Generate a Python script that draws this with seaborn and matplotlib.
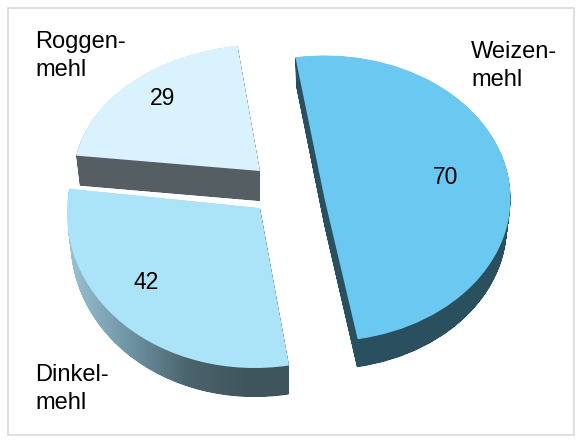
import numpy as np
import matplotlib
matplotlib.use("Agg")
import matplotlib.pyplot as plt
import seaborn as sns
from matplotlib.patches import PathPatch, Rectangle
from matplotlib.path import Path
from matplotlib.transforms import Affine2D
from matplotlib.colors import LinearSegmentedColormap

# Data
categories = ["Weizen-\nmehl", "Dinkel-\nmehl", "Roggen-\nmehl"]
values = [70, 42, 29]

# Look
top_colors = ["#6bc8f0", "#abe3f9", "#daf2fe"]
side_colors = ["#2a4f5e", None, "#555e63"]
centers = [(324.5, 198.5), (260, 208), (260, 171)]
radii = [(186, 143), (193, 160), (186, 127)]
shears = [0.0, 0.028, 0.036]
depths = [28, 29, 30]
label_pos = [(471, 58), (35, 381), (35, 48)]
value_pos = [(446, 184), (146, 289), (163, 105)]

sns.set_theme(style="white")
plt.rcParams["font.family"] = ["Liberation Sans", "DejaVu Sans"]

fig = plt.figure(figsize=(5.88, 4.48), dpi=100)
ax = fig.add_axes([0, 0, 1, 1])

wedges, _ = ax.pie(values, colors=top_colors, startangle=99, counterclock=False,
                   wedgeprops={"linewidth": 0})
ax.set_aspect("auto")
ax.set_xlim(0, 588)
ax.set_ylim(448, 0)

# frame around the chart
ax.add_patch(Rectangle((7.5, 8.5), 566.5, 427, fill=False, edgecolor="#d9d9d9", linewidth=1.2, zorder=0))

# thick sides: the same wedge stacked downwards and narrowing a bit, top face goes on top
gradient = LinearSegmentedColormap.from_list("side", ["#9cc3d3", "#6f95a5", "#4a636c", "#3f555c"])
for w, center, radius, shear, depth, side in zip(wedges, centers, radii, shears, depths, side_colors):
    unit = np.array([[1, shear, 0], [0, 1, 0], [0, 0, 1]])
    base = Affine2D(unit).scale(radius[0], -radius[1]).translate(*center)
    w.set_transform(base + ax.transData)
    w.set_zorder(3)
    layers = []
    for d in np.arange(0.5, depth + 0.5, 0.5):
        taper = 1 - 0.02 * d / depth
        step = Affine2D(unit).scale(radius[0] * taper, -radius[1]).translate(center[0], center[1] + d)
        layers.append(w.get_path().transformed(step))
    body = Path.make_compound_path(*layers)
    if side is not None:
        ax.add_patch(PathPatch(body, facecolor=side, edgecolor="none", zorder=2))
    else:
        clip = PathPatch(body, facecolor="none", edgecolor="none")
        ax.add_patch(clip)
        img = ax.imshow(np.linspace(0, 1, 256).reshape(1, -1), cmap=gradient, aspect="auto",
                        extent=(68, 250, 448, 0), zorder=2)
        img.set_clip_path(clip)
        # right of the gradient stays dark
        img2 = ax.imshow([[1.0]], cmap=gradient, vmin=0, vmax=1, aspect="auto",
                         extent=(250, 300, 448, 0), zorder=2)
        img2.set_clip_path(clip)

ax.set_xlim(0, 588)
ax.set_ylim(448, 0)

for name, pos in zip(categories, label_pos):
    first, second = name.split("\n")
    ax.text(pos[0], pos[1], first, fontsize=17, color="black", va="baseline", ha="left", zorder=5)
    ax.text(pos[0], pos[1] + 28, second, fontsize=17, color="black", va="baseline", ha="left", zorder=5)

for v, pos in zip(values, value_pos):
    ax.text(pos[0], pos[1], str(v), fontsize=16.5, color="black", va="baseline", ha="center", zorder=5)

fig.savefig("out.png", dpi=100)
plt.close(fig)
